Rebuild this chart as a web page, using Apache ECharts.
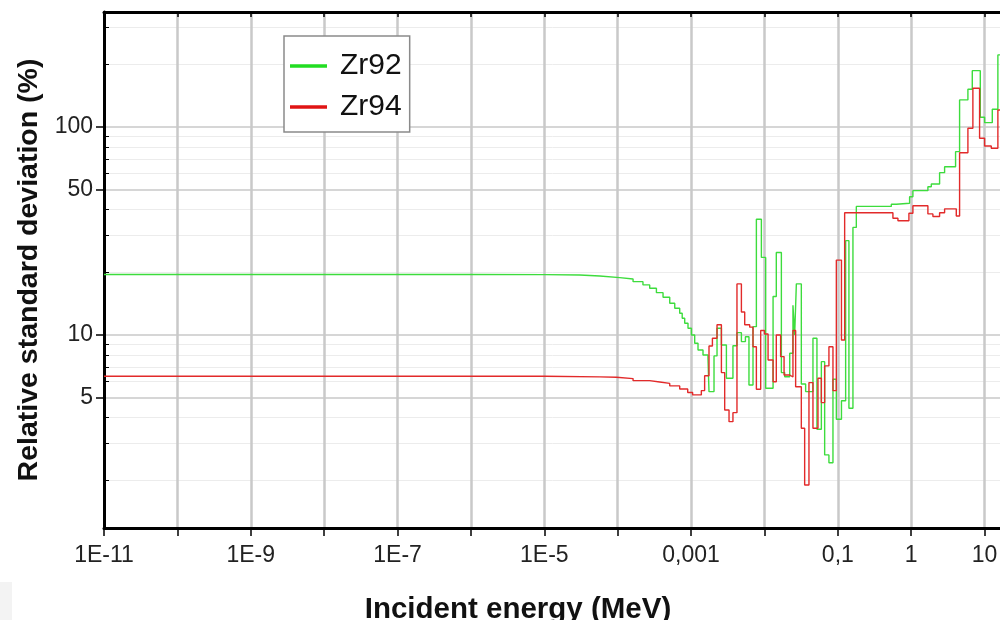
<!DOCTYPE html>
<html>
<head>
<meta charset="utf-8">
<script src="https://cdn.jsdelivr.net/npm/echarts@6/dist/echarts.min.js"></script>
<style>html,body{margin:0;padding:0;background:#fff}#c{width:1000px;height:620px}</style>
</head>
<body>
<div id="c"></div>
<script>
// ---- data (group start energy in MeV, relative std. deviation in %) ----
const seriesNames = ['Zr92', 'Zr94'];
const zr92E = [1e-11, 1e-6, 1.015e-5, 3.04e-5, 5.70e-5, 1.067e-4, 1.62e-4, 2.21e-4, 2.73e-4, 3.37e-4,
  4.15e-4, 5.12e-4, 5.99e-4, 7.00e-4, 7.57e-4, 8.19e-4, 9.08e-4, 1.011e-3, 1.12e-3, 1.243e-3,
  1.454e-3, 1.70e-3, 1.755e-3, 2.054e-3, 2.257e-3, 2.59e-3, 3.03e-3, 3.72e-3, 4.22e-3, 4.85e-3,
  5.50e-3, 6.15e-3, 6.98e-3, 7.76e-3, 9.08e-3, 1.039e-2, 1.31e-2, 1.45e-2, 1.70e-2, 1.885e-2,
  2.21e-2, 2.445e-2, 2.58e-2, 2.72e-2, 3.18e-2, 3.64e-2, 4.58e-2, 5.19e-2, 5.96e-2, 6.61e-2,
  7.56e-2, 8.58e-2, 9.54e-2, 0.112, 0.1277, 0.1416, 0.1606, 0.1786, 0.5355, 0.626,
  0.950, 1.054, 1.687, 1.877, 2.435, 2.849, 4.02, 4.56, 5.92, 6.79,
  8.73, 10, 12.72, 15.16, 100];
const zr92V = [19.54, 19.5, 19.43, 19.22, 18.86, 18.59, 18.04, 17.40, 16.77, 15.97,
  15.18, 14.21, 13.44, 12.72, 12.03, 11.38, 10.77, 10.0, 9.12, 8.47,
  8.01, 7.73, 5.34, 7.93, 10.77, 8.95, 6.19, 8.88, 10.26, 9.29,
  9.81, 5.75, 10.96, 36.0, 23.6, 5.54, 15.3, 24.9, 6.59, 6.30,
  8.17, 13.9, 10.0, 17.6, 5.81, 5.34, 9.64, 3.52, 7.44, 2.65,
  2.43, 6.12, 3.93, 4.83, 28.4, 4.44, 32.9, 41.5, 42.5, 43.0,
  46.2, 49.4, 51.6, 53.2, 60.3, 64.4, 76.1, 134.9, 151.8, 186.5,
  111.3, 104.9, 121.7, 222, 222];
const zr94E = [1e-11, 1.015e-5, 5.70e-5, 9.62e-5, 1.62e-4, 2.73e-4, 3.74e-4, 5.12e-4, 7.00e-4, 9.0e-4,
  1.05e-3, 1.38e-3, 1.53e-3, 1.755e-3, 1.953e-3, 2.257e-3, 2.59e-3, 2.87e-3, 3.29e-3, 3.72e-3,
  4.22e-3, 4.85e-3, 5.38e-3, 6.29e-3, 6.98e-3, 7.76e-3, 8.88e-3, 1.0e-2, 1.12e-2, 1.31e-2,
  1.45e-2, 1.66e-2, 1.85e-2, 2.21e-2, 2.445e-2, 2.66e-2, 3.18e-2, 3.53e-2, 4.04e-2, 4.58e-2,
  5.36e-2, 5.96e-2, 6.61e-2, 7.56e-2, 8.58e-2, 9.54e-2, 0.112, 0.1238, 0.563, 0.659,
  0.930, 1.054, 1.687, 1.974, 2.435, 2.849, 4.11, 4.56, 5.92, 6.92,
  8.54, 10, 12.32, 15.16, 100];
const zr94V = [6.33, 6.29, 6.26, 6.17, 6.03, 5.94, 5.85, 5.69, 5.50, 5.29,
  5.15, 5.40, 6.37, 8.85, 9.64, 11.2, 6.59, 4.36, 3.83, 4.23,
  17.6, 12.9, 11.2, 10.9, 8.78, 5.48, 10.5, 10.1, 7.58, 5.96,
  10.0, 7.87, 6.42, 6.28, 10.5, 5.64, 3.56, 1.90, 5.90, 3.56,
  6.19, 4.73, 7.10, 8.78, 5.40, 22.9, 9.46, 38.7, 36.4, 35.4,
  38.5, 41.8, 38.2, 37.1, 38.7, 40.4, 37.3, 75.2, 98.6, 153.5,
  88.2, 81.0, 79.0, 120.7, 120.7];

// ---- axis ticks ----
const xTickValues = [1e-11, 1e-9, 1e-7, 1e-5, 1e-3, 0.1, 1, 10];
const xTickLabels = ['1E-11', '1E-9', '1E-7', '1E-5', '0,001', '0,1', '1', '10'];
const yMajorTicks = [5, 10, 50, 100];
const yMinorTicks = [2, 3, 4, 6, 7, 8, 9, 20, 30, 40, 60, 70, 80, 90, 200, 300];

const FONT = '"Liberation Sans", Arial, sans-serif';
const X_MIN = 1e-11, X_MAX = 100, Y_MIN = 1.18, Y_MAX = 357;

function xLabel(v) {
  const lv = Math.log10(v);
  for (let i = 0; i < xTickValues.length; i++) {
    if (Math.abs(Math.log10(xTickValues[i]) - lv) < 1e-6) return xTickLabels[i];
  }
  return '';
}

const chart = echarts.init(document.getElementById('c'), null, { renderer: 'canvas' });
chart.setOption({
  animation: false,
  backgroundColor: '#ffffff',
  grid: { left: 104, top: 12, width: 954, height: 516, containLabel: false, outerBoundsMode: 'none' },
  graphic: [{
    type: 'rect', left: 0, top: 582, silent: true,
    shape: { width: 12, height: 38 }, style: { fill: '#f3f3f3' }
  }],
  legend: {
    orient: 'vertical', left: 284, top: 36,
    padding: [15, 8, 10, 6], itemGap: 11,
    itemWidth: 37, itemHeight: 3.5, icon: 'rect',
    backgroundColor: '#ffffff', borderColor: '#8a8a8a', borderWidth: 1.5,
    textStyle: { fontFamily: FONT, fontSize: 30, color: '#111', padding: [0, 0, 0, 8] },
    data: seriesNames
  },
  xAxis: [{
    type: 'log', logBase: 10, min: X_MIN, max: X_MAX, interval: 1, position: 'bottom',
    name: 'Incident energy (MeV)', nameLocation: 'middle', nameGap: 67,
    nameTextStyle: { fontFamily: FONT, fontSize: 29.5, fontWeight: 'bold', color: '#111', padding: [0, 126, 0, 0] },
    axisLine: { show: true, lineStyle: { color: '#000', width: 3 } },
    axisTick: { show: true, inside: false, length: 8, interval: 0, lineStyle: { color: '#000', width: 1.5 } },
    axisLabel: { show: true, interval: 0, margin: 16, fontFamily: FONT, fontSize: 23, color: '#222', formatter: xLabel },
    splitLine: { show: true, lineStyle: { color: '#c9c9c9', width: 2.5 } },
    minorTick: { show: false }, minorSplitLine: { show: false }
  }, {
    type: 'log', logBase: 10, min: X_MIN, max: X_MAX, interval: 1, position: 'top',
    axisLine: { show: true, lineStyle: { color: '#000', width: 3 } },
    axisTick: { show: true, inside: true, length: 5, interval: 0, lineStyle: { color: '#000', width: 1.5 } },
    axisLabel: { show: false },
    splitLine: { show: false }
  }],
  yAxis: [{
    type: 'log', logBase: 10, min: Y_MIN, max: Y_MAX, position: 'left',
    name: 'Relative standard deviation (%)', nameLocation: 'middle', nameGap: 58,
    nameTextStyle: { fontFamily: FONT, fontSize: 28.5, fontWeight: 'bold', color: '#111' },
    axisLine: { show: true, lineStyle: { color: '#000', width: 3 } },
    axisTick: { show: true, inside: false, length: 8, customValues: yMajorTicks, lineStyle: { color: '#000', width: 1.5 } },
    axisLabel: { show: true, margin: 11, fontFamily: FONT, fontSize: 23, color: '#222', customValues: yMajorTicks },
    splitLine: { show: true, lineStyle: { color: '#c9c9c9', width: 1.5 } }
  }, {
    type: 'log', logBase: 10, min: Y_MIN, max: Y_MAX, position: 'left',
    axisLine: { show: false },
    axisTick: { show: true, inside: true, length: 5, customValues: yMinorTicks, lineStyle: { color: '#000', width: 1 } },
    axisLabel: { show: false },
    splitLine: { show: true, lineStyle: { color: '#ececec', width: 1 } }
  }],
  series: [{
    name: seriesNames[0], type: 'line', step: 'end', xAxisIndex: 0, yAxisIndex: 0,
    symbol: 'none', showSymbol: false, z: 3,
    color: '#22dd22',
    lineStyle: { color: '#3ddc3d', width: 1.4 },
    data: zr92E.map((e, i) => [e, zr92V[i]])
  }, {
    name: seriesNames[1], type: 'line', step: 'end', xAxisIndex: 0, yAxisIndex: 0,
    symbol: 'none', showSymbol: false, z: 3,
    color: '#e01414',
    lineStyle: { color: '#e22a2a', width: 1.4 },
    data: zr94E.map((e, i) => [e, zr94V[i]])
  }]
});
</script>
</body>
</html>
